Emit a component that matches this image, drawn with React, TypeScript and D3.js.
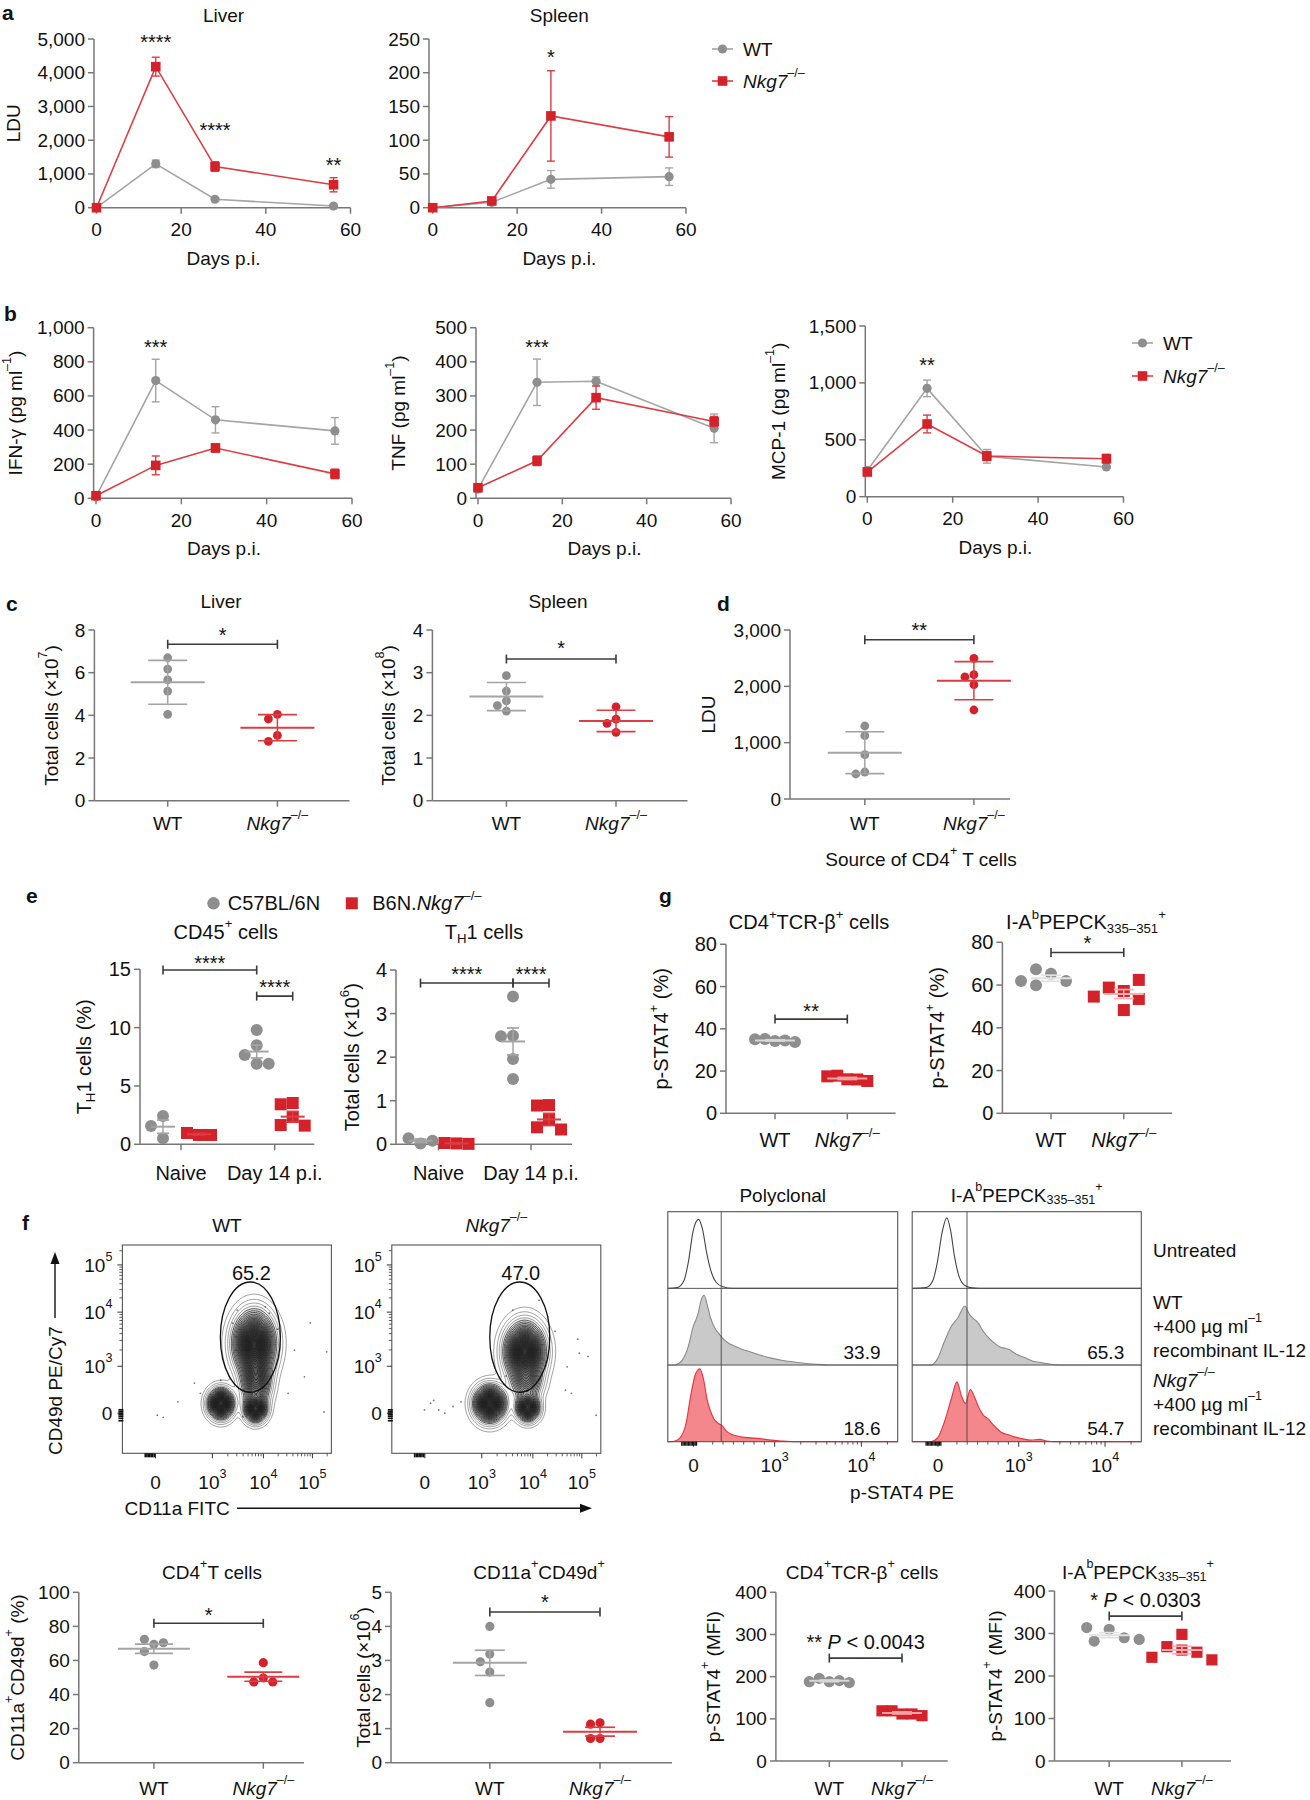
import React from 'react';
import * as d3 from 'd3';

const FONT = '"Liberation Sans", Arial, Helvetica, sans-serif';
const RED = '#d3222a';
const RED_LINE = '#dc3c43';
const GREY = '#8e8e8e';
const GREY_LINE = '#a4a4a4';
const AXIS = '#777';
const INK = '#111';
const SZ = 19;

// ---------- a / b : time courses ----------
const days = [0, 14, 28, 56];
const dayTicks = [0, 20, 40, 60];

const liverWT = [0, 1300, 250, 50];
const liverWTerr = [30, 110, 40, 25];
const liverKO = [0, 4180, 1220, 680];
const liverKOerr = [30, 280, 140, 210];
const liverStars = [[14, 5070, '****'], [28, 2470, '****'], [56, 1410, '**']];

const spleenWT = [0, 8, 42, 46];
const spleenWTerr = [1, 3, 13, 13];
const spleenKO = [0, 10, 136, 105];
const spleenKOerr = [1, 3, 67, 30];
const spleenStars = [[28, 231, '*']];

const ifnWT = [10, 690, 460, 395];
const ifnWTerr = [8, 125, 77, 78];
const ifnKO = [15, 193, 295, 143];
const ifnKOerr = [8, 55, 24, 28];
const ifnStars = [[14, 918, '***']];

const tnfWT = [27, 340, 343, 205];
const tnfWTerr = [6, 68, 13, 42];
const tnfKO = [31, 110, 295, 225];
const tnfKOerr = [6, 14, 34, 15];
const tnfStars = [[14, 459, '***']];

const mcpWT = [231, 952, 355, 261];
const mcpWTerr = [25, 73, 60, 10];
const mcpKO = [217, 639, 357, 334];
const mcpKOerr = [20, 78, 39, 38];
const mcpStars = [[14, 1201, '**']];

// ---------- c / d ----------
const cLiverWT = [6.7, 6.17, 5.66, 5.14, 4.05];
const cLiverKO = [4.05, 3.83, 3.06, 2.78];
const cLiverMean = [5.55, 3.42];
const cLiverSD = [1.03, 0.61];
const cSpleenWT = [2.93, 2.57, 2.34, 2.23, 2.1];
const cSpleenKO = [2.2, 1.91, 1.81, 1.6];
const cSpleenMean = [2.44, 1.87];
const cSpleenSD = [0.33, 0.25];
const dWT = [1296, 1124, 787, 479, 444];
const dKO = [2497, 2207, 2166, 2029, 1580];
const dMean = [822, 2100];
const dSD = [372, 338];

// ---------- e ----------
const e45NaiveWT = [2.43, 1.56, 0.51];
const e45NaiveKO = [0.8, 0.97, 0.8];
const e45D14WT = [9.8, 8.5, 7.65, 6.9, 6.9];
const e45D14KO = [3.54, 3.43, 2.34, 1.65, 1.6];
const e45Mean = [1.51, 0.86, 7.95, 2.37];
const e45Err = [0.57, 0.06, 0.55, 0.45];
const th1NaiveWT = [0.02, 0.14, 0.08];
const th1NaiveKO = [0.02, 0.03, 0.01];
const th1D14WT = [3.39, 2.49, 2.48, 1.96, 1.5];
const th1D14KO = [0.9, 0.89, 0.56, 0.39, 0.34];
const th1Mean = [0.08, 0.02, 2.36, 0.57];
const th1Err = [0.04, 0.01, 0.31, 0.14];

// ---------- g ----------
const g1WT = [34.2, 35.2, 34.5, 35.0, 33.8];
const g1KO = [16.1, 17.8, 16.0, 17.5, 15.3];
const g1Mean = [34.5, 16.5];
const g1Err = [0.3, 0.5];
const g2WT = [65.3, 59.9, 61.9, 67.4, 61.9];
const g2KO = [57.2, 58.8, 53.5, 48.3, 62.4, 54.6];
const g2Mean = [63.2, 55.8];
const g2Err = [1.4, 2.1];

// ---------- bottom row ----------
const b1WT = [69.5, 72.4, 70.4, 65.2, 57.3];
const b1KO = [58.7, 49.7, 47.4, 47.4];
const b1Mean = [66.9, 50.5];
const b1Err = [2.7, 2.7];
const b2WT = [4.0, 3.19, 2.96, 2.66, 1.76];
const b2KO = [1.17, 1.13, 0.71, 0.71];
const b2Mean = [2.93, 0.91];
const b2Err = [0.37, 0.13];
const b3WT = [188, 196, 190.5, 188, 186];
const b3KO = [111.5, 119, 111.5, 119, 107.5];
const b3Mean = [190, 114];
const b3Err = [2, 2.5];
const b4WT = [310, 282, 290, 314, 286];
const b4KO = [261, 269, 298, 256, 244, 238];
const b4Mean = [296, 261];
const b4Err = [6, 9];

// ---------- f : flow (display channels 0-1024) ----------
const flowXTickCh = [162, 441, 691, 931];
const flowYTickCh = [197, 428, 694, 926];
const flowTickLabels = ['0', '10^{3}', '10^{4}', '10^{5}'];
// [cx, cy, sx, sy, weight]
const flowWTClusters = [[645, 540, 52, 80, 1], [655, 360, 38, 70, 0.55], [652, 218, 28, 33, 0.8], [482, 244, 32, 38, 0.95]];
const flowKOClusters = [[651, 500, 50, 72, 1], [660, 350, 40, 50, 0.35], [480, 244, 40, 46, 0.95], [666, 224, 29, 34, 0.8]];
const flowWTDots = [[200, 177], [171, 187], [272, 253], [382, 295], [353, 345], [843, 507], [892, 376], [921, 641], [1001, 499], [988, 203], [812, 295], [720, 689], [562, 704], [700, 720], [482, 359], [760, 610], [540, 640], [590, 180]];
const flowKODots = [[160, 213], [190, 246], [230, 213], [260, 197], [339, 253], [859, 425], [911, 561], [961, 476], [1001, 187], [880, 295], [851, 310], [919, 492], [722, 753], [592, 704], [300, 230], [205, 260], [800, 600], [560, 380]];
const flowPileY = [160, 172, 182, 190, 198, 206, 214];
const flowPileX = [112, 120, 127, 134, 141, 148, 156];
const flowGate = [627, 571, 147, 271];
const flowPct = ['65.2', '47.0'];

// ---------- f : histograms (channel, fraction of row height) ----------
const histTickCh = [115, 476, 862];
const histTickLabels = ['0', '10^{3}', '10^{4}'];
const polyUntreated = [[0, 0], [41, 0.01], [72, 0.1], [92, 0.35], [113, 0.75], [137, 0.9], [154, 0.78], [174, 0.45], [195, 0.2], [215, 0.08], [246, 0.02], [287, 0], [1024, 0]];
const polyWT = [[0, 0], [31, 0], [61, 0.05], [92, 0.25], [113, 0.5], [133, 0.65], [150, 0.86], [162, 0.91], [176, 0.78], [190, 0.62], [210, 0.48], [230, 0.4], [250, 0.33], [280, 0.27], [328, 0.21], [369, 0.17], [410, 0.13], [461, 0.09], [512, 0.06], [563, 0.04], [614, 0.02], [666, 0.01], [717, 0], [1024, 0]];
const polyKO = [[0, 0], [20, 0], [51, 0.04], [82, 0.25], [102, 0.6], [123, 0.88], [143, 0.95], [160, 0.8], [175, 0.55], [190, 0.4], [205, 0.3], [225, 0.24], [245, 0.2], [260, 0.14], [280, 0.1], [300, 0.08], [330, 0.06], [370, 0.05], [410, 0.04], [460, 0.02], [512, 0.01], [560, 0], [1024, 0]];
const iabUntreated = [[0, 0], [61, 0.01], [92, 0.1], [113, 0.35], [133, 0.72], [155, 0.92], [172, 0.75], [190, 0.4], [210, 0.15], [230, 0.05], [260, 0.01], [300, 0], [1024, 0]];
const iabWT = [[0, 0], [82, 0], [113, 0.08], [143, 0.3], [174, 0.5], [205, 0.62], [235, 0.77], [256, 0.66], [276, 0.6], [292, 0.56], [315, 0.45], [340, 0.36], [370, 0.28], [397, 0.23], [415, 0.22], [435, 0.2], [460, 0.15], [500, 0.1], [540, 0.05], [580, 0.03], [620, 0.01], [660, 0], [1024, 0]];
const iabKO = [[0, 0], [82, 0], [113, 0.05], [143, 0.25], [174, 0.55], [200, 0.78], [220, 0.6], [238, 0.5], [260, 0.68], [276, 0.6], [297, 0.45], [317, 0.35], [338, 0.3], [369, 0.2], [400, 0.12], [430, 0.09], [460, 0.06], [490, 0.04], [530, 0.02], [570, 0.03], [600, 0.01], [640, 0], [1024, 0]];
const histGate = [238, 245];
const histPcts = [['33.9', '18.6'], ['65.3', '54.7']];

// ---------- text helpers ----------
function parse(src: string) {
  const out: any[] = [];
  const re = /([\^_*])\{([^}]*)\}/g;
  let last = 0;
  let m: any;
  while ((m = re.exec(src))) {
    if (m.index > last) out.push({ t: src.slice(last, m.index) });
    out.push(m[1] === '^' ? { t: m[2], s: 'sup' } : m[1] === '_' ? { t: m[2], s: 'sub' } : { t: m[2], i: true });
    last = re.lastIndex;
  }
  if (last < src.length) out.push({ t: src.slice(last) });
  return out;
}

function T({ x, y, s, size = SZ, anchor = 'middle', rotate, weight, fill = INK }: any) {
  let cur = 0;
  const spans = parse(s).map((p: any, k: number) => {
    const target = p.s === 'sup' ? -0.42 * size : p.s === 'sub' ? 0.3 * size : 0;
    const dy = target - cur;
    cur = target;
    return (
      <tspan key={k} dy={dy ? dy : undefined} fontSize={p.s ? size * 0.66 : undefined} fontStyle={p.i ? 'italic' : undefined}>
        {p.t}
      </tspan>
    );
  });
  return (
    <text x={x} y={y} fontSize={size} textAnchor={anchor} dominantBaseline="central" fill={fill} fontWeight={weight}
      transform={rotate ? `rotate(${rotate} ${x} ${y})` : undefined}>
      {spans}
    </text>
  );
}

const Stars = ({ x, y, s, size = 20 }: any) => (
  <text x={x} y={y + 0.26 * size} fontSize={size} textAnchor="middle" dominantBaseline="central" fill={INK}>{s}</text>
);

function swarm(vals: number[], y: any, d: number) {
  const placed: number[][] = [];
  return vals.map(v => {
    const py = y(v);
    for (let k = 0; k < 30; k++) {
      const off = k === 0 ? 0 : (k % 2 ? -1 : 1) * Math.ceil(k / 2) * d * 0.5;
      if (placed.every(([px, qy]) => Math.hypot(px - off, qy - py) >= d - 0.01)) {
        placed.push([off, py]);
        return off;
      }
    }
    return 0;
  });
}

// ---------- line panel ----------
function LinePanel({ f, yMax, yTicks, wt, wtErr, ko, koErr, stars, title, ylabel }: any) {
  const x = d3.scaleLinear().domain([0, 60]).range([f.x0, f.x1]);
  const y = d3.scaleLinear().domain([0, yMax]).range([f.yb, f.yt]);
  const line = d3.line<number>().x((_, i) => x(days[i])).y(d => y(d));
  const fmt = d3.format(',');
  const series = (vals: number[], errs: number[], fill: string, stroke: string, shape: string) => (
    <g>
      <path d={line(vals) || ''} fill="none" stroke={stroke} strokeWidth={1.6} />
      {vals.map((v, i) => {
        const cx = x(days[i]);
        const cy = y(v);
        const e1 = y(v + errs[i]);
        const e2 = y(v - errs[i]);
        return (
          <g key={i}>
            <line x1={cx} x2={cx} y1={e1} y2={e2} stroke={stroke} strokeWidth={1.4} />
            <line x1={cx - 4} x2={cx + 4} y1={e1} y2={e1} stroke={stroke} strokeWidth={1.4} />
            <line x1={cx - 4} x2={cx + 4} y1={e2} y2={e2} stroke={stroke} strokeWidth={1.4} />
            {shape === 'c'
              ? <circle cx={cx} cy={cy} r={4.6} fill={fill} />
              : <rect x={cx - 4.8} y={cy - 4.8} width={9.6} height={9.6} fill={fill} />}
          </g>
        );
      })}
    </g>
  );
  return (
    <g>
      {title && <T x={(f.x0 + f.x1) / 2} y={f.yt - 24} s={title} />}
      <line x1={f.ax} x2={f.ax} y1={y(0)} y2={y(yMax)} stroke={AXIS} strokeWidth={1.5} />
      <line x1={f.ax} x2={x(60)} y1={y(0)} y2={y(0)} stroke={AXIS} strokeWidth={1.5} />
      {yTicks.map((t: number) => (
        <g key={t}>
          <line x1={f.ax - 6} x2={f.ax} y1={y(t)} y2={y(t)} stroke={AXIS} strokeWidth={1.5} />
          <text x={f.ax - 9} y={y(t)} fontSize={SZ} textAnchor="end" dominantBaseline="central" fill={INK}>{fmt(t)}</text>
        </g>
      ))}
      {dayTicks.map(t => (
        <g key={t}>
          <line x1={x(t)} x2={x(t)} y1={y(0)} y2={y(0) + 6} stroke={AXIS} strokeWidth={1.5} />
          <text x={x(t)} y={y(0) + 22} fontSize={SZ} textAnchor="middle" dominantBaseline="central" fill={INK}>{t}</text>
        </g>
      ))}
      <T x={(f.x0 + f.x1) / 2} y={y(0) + 50} s="Days p.i." />
      <T x={f.ylx} y={(f.yt + f.yb) / 2} s={ylabel} rotate={-90} />
      {series(wt, wtErr, GREY, GREY_LINE, 'c')}
      {series(ko, koErr, RED, RED_LINE, 's')}
      {stars.map((s: any, i: number) => <Stars key={i} x={x(s[0])} y={y(s[1])} s={s[2]} />)}
    </g>
  );
}

const Legend = ({ x, y, gap }: any) => (
  <g>
    <line x1={x} x2={x + 21} y1={y} y2={y} stroke={GREY_LINE} strokeWidth={1.6} />
    <circle cx={x + 10.5} cy={y} r={4.6} fill={GREY} />
    <T x={x + 31} y={y} s="WT" anchor="start" />
    <line x1={x} x2={x + 21} y1={y + gap} y2={y + gap} stroke={RED_LINE} strokeWidth={1.6} />
    <rect x={x + 5.7} y={y + gap - 4.8} width={9.6} height={9.6} fill={RED} />
    <T x={x + 31} y={y + gap} s="*{Nkg7}^{–/–}" anchor="start" />
  </g>
);

// ---------- dot panel ----------
function DotPanel({ f, yMax, yTicks, fmt = String, groups, brackets, title, ylabel, cats, r, mh, ch, sp, lineW = 2, size = SZ }: any) {
  const y = d3.scaleLinear().domain([0, yMax]).range([f.yb, f.yt]);
  const cat = d3.scalePoint<string>().domain(cats.map((c: any) => c[0])).range(f.range);
  const sub = d3.scalePoint<string>().domain(['WT', 'KO']).range(f.sub || [0, 0]);
  const gx = (g: any) => (cat(g.cat) as number) + (f.sub ? (sub(g.sub) as number) : 0);
  return (
    <g>
      {title && <T x={f.tx} y={f.ty} s={title} size={size} />}
      <line x1={f.ax} x2={f.ax} y1={y(0)} y2={y(yMax)} stroke={AXIS} strokeWidth={1.5} />
      <line x1={f.ax} x2={f.end} y1={y(0)} y2={y(0)} stroke={AXIS} strokeWidth={1.5} />
      {yTicks.map((t: number) => (
        <g key={t}>
          <line x1={f.ax - 6} x2={f.ax} y1={y(t)} y2={y(t)} stroke={AXIS} strokeWidth={1.5} />
          <text x={f.ax - 9} y={y(t)} fontSize={size} textAnchor="end" dominantBaseline="central" fill={INK}>{fmt(t)}</text>
        </g>
      ))}
      {cats.map((c: any) => (
        <g key={c[0]}>
          <line x1={cat(c[0])} x2={cat(c[0])} y1={y(0)} y2={y(0) + 6} stroke={AXIS} strokeWidth={1.5} />
          <T x={cat(c[0])} y={f.cy} s={c[1]} size={size} />
        </g>
      ))}
      <T x={f.ylx} y={(f.yt + f.yb) / 2} s={ylabel} rotate={-90} size={size} />
      {groups.map((g: any, gi: number) => {
        const x0 = gx(g);
        const offs = swarm(g.vals, y, sp);
        return (
          <g key={gi}>
            {g.vals.map((v: number, i: number) => g.shape === 'c'
              ? <circle key={i} cx={x0 + offs[i]} cy={y(v)} r={r} fill={g.color} />
              : <rect key={i} x={x0 + offs[i] - r} y={y(v) - r} width={2 * r} height={2 * r} fill={g.color} />)}
            <line x1={x0 - mh} x2={x0 + mh} y1={y(g.mean)} y2={y(g.mean)} stroke={g.line} strokeWidth={lineW} />
            <line x1={x0} x2={x0} y1={y(g.mean + g.err)} y2={y(g.mean - g.err)} stroke={g.line} strokeWidth={1.5} />
            <line x1={x0 - ch} x2={x0 + ch} y1={y(g.mean + g.err)} y2={y(g.mean + g.err)} stroke={g.line} strokeWidth={1.7} />
            <line x1={x0 - ch} x2={x0 + ch} y1={y(g.mean - g.err)} y2={y(g.mean - g.err)} stroke={g.line} strokeWidth={1.7} />
          </g>
        );
      })}
      {brackets.map((b: any, i: number) => {
        const xa = gx(groups[b.a]);
        const xb = gx(groups[b.b]);
        const yy = y(b.at);
        return (
          <g key={i}>
            <line x1={xa} x2={xb} y1={yy} y2={yy} stroke="#3a3a3a" strokeWidth={1.6} />
            <line x1={xa} x2={xa} y1={yy - 4.5} y2={yy + 4.5} stroke="#3a3a3a" strokeWidth={1.6} />
            <line x1={xb} x2={xb} y1={yy - 4.5} y2={yy + 4.5} stroke="#3a3a3a" strokeWidth={1.6} />
            {b.p
              ? <T x={(xa + xb) / 2} y={y(b.lab)} s={b.label} size={size + 1} />
              : <Stars x={(xa + xb) / 2} y={y(b.lab)} s={b.label} />}
          </g>
        );
      })}
    </g>
  );
}

const pair = (wt: number[], ko: number[], mean: number[], err: number[], shapes = ['c', 'c'], lines = [GREY_LINE, RED_LINE]) => [
  { cat: 'WT', vals: wt, mean: mean[0], err: err[0], shape: shapes[0], color: GREY, line: lines[0] },
  { cat: 'KO', vals: ko, mean: mean[1], err: err[1], shape: shapes[1], color: RED, line: lines[1] },
];
const wtKoCats = [['WT', 'WT'], ['KO', '*{Nkg7}^{–/–}']];

// ---------- flow contour ----------
const GRID = 128;
function FlowPlot({ b, clusters, dots, title, pct, id }: any) {
  const x = d3.scaleLinear().domain([0, 1024]).range([b.x0, b.x1]);
  const y = d3.scaleLinear().domain([0, 1024]).range([b.y1, b.y0]);
  const values: number[] = new Array(GRID * GRID);
  for (let j = 0; j < GRID; j++) {
    for (let i = 0; i < GRID; i++) {
      const cx = ((i + 0.5) * 1024) / GRID;
      const cy = 1024 - ((j + 0.5) * 1024) / GRID;
      let v = 0;
      for (const c of clusters) {
        const dx = (cx - c[0]) / c[2];
        const dy = (cy - c[1]) / c[3];
        v += c[4] * Math.exp(-0.5 * (dx * dx + dy * dy));
      }
      values[j * GRID + i] = v;
    }
  }
  const mx = d3.max(values) as number;
  const levels = [0.01, 0.025, 0.045, 0.07, 0.1, 0.13].concat(d3.range(0.16, 0.97, 0.035)).map(q => q * mx);
  const contours = d3.contours().size([GRID, GRID]).thresholds(levels)(values);
  const sx = (b.x1 - b.x0) / GRID;
  const sy = (b.y1 - b.y0) / GRID;
  const proj = d3.geoTransform({
    point(px: number, py: number) {
      (this as any).stream.point(b.x0 + px * sx, b.y0 + py * sy);
    },
  });
  const path = d3.geoPath(proj as any);
  const minor = (ticks: number[]) => {
    const out: number[] = [];
    for (let k = 2; k < ticks.length; k++) {
      const a = ticks[k - 1];
      d3.range(2, 10).forEach(m => out.push(a + Math.log10(m) * (ticks[k] - a)));
    }
    const last = ticks[ticks.length - 1];
    const w = last - ticks[ticks.length - 2];
    d3.range(2, 10).forEach(m => { const p = last + Math.log10(m) * w; if (p < 1020) out.push(p); });
    return out;
  };
  return (
    <g>
      <T x={(b.x0 + b.x1) / 2} y={b.y0 - 20} s={title} size={SZ} />
      <clipPath id={id}><rect x={b.x0} y={b.y0} width={b.x1 - b.x0} height={b.y1 - b.y0} /></clipPath>
      <g clipPath={`url(#${id})`}>
        {dots.map((d: number[], i: number) => <circle key={i} cx={x(d[0])} cy={y(d[1])} r={0.9} fill="#777" />)}
        {contours.map((c, i) => (
          <path key={i} d={path(c as any) || ''} fill="#000" fillOpacity={i < 3 ? 0 : 0.055} stroke="#1a1a1a"
            strokeWidth={i < 4 ? 0.6 : 0.8} strokeOpacity={i < 4 ? 0.7 : 0.9} />
        ))}
      </g>
      <ellipse cx={x(flowGate[0])} cy={y(flowGate[1])} rx={x(flowGate[2]) - x(0)} ry={y(0) - y(flowGate[3])} fill="none" stroke="#111" strokeWidth={1.3} />
      <text x={x(632)} y={y(887)} fontSize={20} textAnchor="middle" dominantBaseline="central" fill={INK}>{pct}</text>
      <rect x={b.x0} y={b.y0} width={b.x1 - b.x0} height={b.y1 - b.y0} fill="none" stroke="#555" strokeWidth={1.1} />
      {flowYTickCh.map((t, i) => (
        <g key={i}>
          <line x1={b.x0 - 5} x2={b.x0} y1={y(t)} y2={y(t)} stroke="#333" strokeWidth={1} />
          <T x={b.x0 - 10} y={y(t)} s={flowTickLabels[i]} anchor="end" size={SZ} />
        </g>
      ))}
      {flowXTickCh.map((t, i) => (
        <g key={i}>
          <line x1={x(t)} x2={x(t)} y1={b.y1} y2={b.y1 + 5} stroke="#333" strokeWidth={1} />
          <T x={x(t)} y={b.y1 + 29} s={flowTickLabels[i]} size={SZ} />
        </g>
      ))}
      {minor(flowXTickCh).map((t, i) => <line key={i} x1={x(t)} x2={x(t)} y1={b.y1} y2={b.y1 + 3} stroke="#333" strokeWidth={0.8} />)}
      {minor(flowYTickCh).map((t, i) => <line key={i} x1={b.x0 - 3} x2={b.x0} y1={y(t)} y2={y(t)} stroke="#333" strokeWidth={0.8} />)}
      {flowPileX.map((t, i) => <line key={i} x1={x(t)} x2={x(t)} y1={b.y1} y2={b.y1 + 4} stroke="#111" strokeWidth={1.6} />)}
      {flowPileY.map((t, i) => <line key={i} x1={b.x0 - 4} x2={b.x0 + 1} y1={y(t)} y2={y(t)} stroke="#111" strokeWidth={1.6} />)}
    </g>
  );
}

// ---------- histogram ----------
function HistPanel({ b, curves, gate, pcts, title }: any) {
  const x = d3.scaleLinear().domain([0, 1024]).range([b.x0, b.x1]);
  const rh = (b.y1 - b.y0) / 3;
  const styles = [
    { fill: '#ffffff', stroke: '#444' },
    { fill: '#c9c9c9', stroke: '#8a8a8a' },
    { fill: '#f4878b', stroke: '#e3343c' },
  ];
  return (
    <g>
      <T x={(b.x0 + b.x1) / 2} y={b.y0 - 17} s={title} />
      {curves.map((pts: number[][], i: number) => {
        const bottom = b.y0 + (i + 1) * rh;
        const y = d3.scaleLinear().domain([0, 1]).range([bottom, bottom - rh]);
        const area = d3.area<number[]>().x(d => x(d[0])).y0(bottom).y1(d => y(d[1])).curve(d3.curveMonotoneX);
        const line = d3.line<number[]>().x(d => x(d[0])).y(d => y(d[1])).curve(d3.curveMonotoneX);
        return (
          <g key={i}>
            <path d={area(pts) || ''} fill={styles[i].fill} />
            <path d={line(pts) || ''} fill="none" stroke={styles[i].stroke} strokeWidth={1.1} />
            {i > 0 && <text x={x(865)} y={bottom - 13} fontSize={SZ} textAnchor="middle" dominantBaseline="central" fill={INK}>{pcts[i - 1]}</text>}
            {i < 2 && <line x1={b.x0} x2={b.x1} y1={bottom} y2={bottom} stroke="#555" strokeWidth={1} />}
          </g>
        );
      })}
      <line x1={x(gate)} x2={x(gate)} y1={b.y0} y2={b.y1} stroke="#444" strokeWidth={0.9} />
      <rect x={b.x0} y={b.y0} width={b.x1 - b.x0} height={b.y1 - b.y0} fill="none" stroke="#555" strokeWidth={1.1} />
      {histTickCh.map((t, i) => (
        <g key={i}>
          <line x1={x(t)} x2={x(t)} y1={b.y1} y2={b.y1 + 5} stroke="#333" strokeWidth={1} />
          <T x={x(t)} y={b.y1 + 23} s={histTickLabels[i]} />
        </g>
      ))}
      {d3.range(2, 10).map(m => histTickCh[1] + Math.log10(m) * (histTickCh[2] - histTickCh[1]))
        .concat(d3.range(2, 10).map(m => histTickCh[2] + Math.log10(m) * (histTickCh[2] - histTickCh[1])).filter(p => p < 1020))
        .concat(d3.range(200, 476, 46))
        .map((t, i) => <line key={i} x1={x(t)} x2={x(t)} y1={b.y1} y2={b.y1 + 3} stroke="#333" strokeWidth={0.8} />)}
      {d3.range(62, 130, 6).map((t, i) => <line key={i} x1={x(t)} x2={x(t)} y1={b.y1} y2={b.y1 + 4} stroke="#111" strokeWidth={1.3} />)}
    </g>
  );
}

// ---------- layout ----------
const F = {
  aLiver: { ax: 94, x0: 96.5, x1: 350.5, yt: 39, yb: 207.7, ylx: 13 },
  aSpleen: { ax: 429, x0: 432.7, x1: 686, yt: 39, yb: 207.7, ylx: 0 },
  bIfn: { ax: 93.6, x0: 96, x1: 352, yt: 327.7, yb: 498.3, ylx: 15 },
  bTnf: { ax: 476, x0: 478, x1: 731, yt: 327.7, yb: 498.3, ylx: 398 },
  bMcp: { ax: 865.3, x0: 867.3, x1: 1123.5, yt: 326, yb: 496.7, ylx: 778 },
  cLiver: { ax: 94.4, yt: 630, yb: 800.7, end: 349.5, range: [167.7, 277.4], cy: 822.7, ylx: 51, tx: 221, ty: 600.7 },
  cSpleen: { ax: 432.4, yt: 630, yb: 800.7, end: 687.5, range: [506.4, 616], cy: 822.7, ylx: 388, tx: 558, ty: 600.7 },
  d: { ax: 790, yt: 630, yb: 799, end: 1010, range: [864.8, 973.9], cy: 822.7, ylx: 708 },
  e45: { ax: 140, yt: 969.3, yb: 1144.3, end: 314.3, range: [181, 274.7], sub: [-18, 18], cy: 1173, ylx: 84, tx: 225.7, ty: 931.7 },
  eTh1: { ax: 396, yt: 970, yb: 1144.3, end: 572, range: [438.5, 531], sub: [-18, 18], cy: 1173, ylx: 352, tx: 484, ty: 931.7 },
  g1: { ax: 726, yt: 944.3, yb: 1113.3, end: 895.6, range: [775, 847.3], cy: 1140, ylx: 661.4, tx: 809, ty: 922 },
  g2: { ax: 1002.4, yt: 942.3, yb: 1113.3, end: 1172, range: [1051, 1123.8], cy: 1140, ylx: 937, tx: 1086, ty: 922 },
  b1: { ax: 78.8, yt: 1592.3, yb: 1762.7, end: 304, range: [153.9, 263.3], cy: 1788, ylx: 17, tx: 212, ty: 1571.7 },
  b2: { ax: 391, yt: 1592.3, yb: 1762.7, end: 672, range: [489.8, 600], cy: 1788, ylx: 363, tx: 539, ty: 1571.7 },
  b3: { ax: 775.9, yt: 1592.3, yb: 1761, end: 947.7, range: [829.3, 902], cy: 1788, ylx: 712.6, tx: 862, ty: 1571.7 },
  b4: { ax: 1054.5, yt: 1591, yb: 1761, end: 1231, range: [1109.2, 1181.9], cy: 1788, ylx: 994.7, tx: 1138, ty: 1571.7 },
  flowWT: { x0: 122.4, x1: 331.4, y0: 1245, y1: 1453.3 },
  flowKO: { x0: 391.8, x1: 600.8, y0: 1245, y1: 1453.3 },
  histPoly: { x0: 667.8, x1: 897.7, y0: 1211.7, y1: 1441.7 },
  histIab: { x0: 912.2, x1: 1141.3, y0: 1211.7, y1: 1441.7 },
};

const Letter = ({ x, y, s }: any) => (
  <text x={x} y={y} fontSize={21} fontWeight="bold" dominantBaseline="central" fill={INK}>{s}</text>
);

const eGroups = (nWT: number[], nKO: number[], dWT_: number[], dKO_: number[], mean: number[], err: number[]) => [
  { cat: 'Naive', sub: 'WT', vals: nWT, mean: mean[0], err: err[0], shape: 'c', color: GREY, line: GREY_LINE },
  { cat: 'Naive', sub: 'KO', vals: nKO, mean: mean[1], err: err[1], shape: 's', color: RED, line: RED_LINE },
  { cat: 'D14', sub: 'WT', vals: dWT_, mean: mean[2], err: err[2], shape: 'c', color: GREY, line: GREY_LINE },
  { cat: 'D14', sub: 'KO', vals: dKO_, mean: mean[3], err: err[3], shape: 's', color: RED, line: RED_LINE },
];
const eCats = [['Naive', 'Naive'], ['D14', 'Day 14 p.i.']];

export default function App() {
  return (
    <svg width={1310} height={1800} viewBox="0 0 1310 1800" fontFamily={FONT}
      style={{ position: 'absolute', left: 0, top: 0, background: '#fff' }}>
      <rect width={1310} height={1800} fill="#fff" />

      {/* a */}
      <Letter x={2} y={12} s="a" />
      <LinePanel f={F.aLiver} yMax={5000} yTicks={d3.range(0, 5001, 1000)} wt={liverWT} wtErr={liverWTerr} ko={liverKO} koErr={liverKOerr}
        stars={liverStars} title="Liver" ylabel="LDU" />
      <LinePanel f={F.aSpleen} yMax={250} yTicks={d3.range(0, 251, 50)} wt={spleenWT} wtErr={spleenWTerr} ko={spleenKO} koErr={spleenKOerr}
        stars={spleenStars} title="Spleen" ylabel="" />
      <Legend x={712} y={49} gap={32} />

      {/* b */}
      <Letter x={4} y={313} s="b" />
      <LinePanel f={F.bIfn} yMax={1000} yTicks={d3.range(0, 1001, 200)} wt={ifnWT} wtErr={ifnWTerr} ko={ifnKO} koErr={ifnKOerr}
        stars={ifnStars} ylabel="IFN-γ (pg ml^{–1})" />
      <LinePanel f={F.bTnf} yMax={500} yTicks={d3.range(0, 501, 100)} wt={tnfWT} wtErr={tnfWTerr} ko={tnfKO} koErr={tnfKOerr}
        stars={tnfStars} ylabel="TNF (pg ml^{–1})" />
      <LinePanel f={F.bMcp} yMax={1500} yTicks={d3.range(0, 1501, 500)} wt={mcpWT} wtErr={mcpWTerr} ko={mcpKO} koErr={mcpKOerr}
        stars={mcpStars} ylabel="MCP-1 (pg ml^{–1})" />
      <Legend x={1132} y={343} gap={33} />

      {/* c */}
      <Letter x={6} y={603} s="c" />
      <DotPanel f={F.cLiver} yMax={8} yTicks={d3.range(0, 9, 2)} groups={pair(cLiverWT, cLiverKO, cLiverMean, cLiverSD)}
        brackets={[{ a: 0, b: 1, at: 7.33, lab: 8.0, label: '*' }]} title="Liver" ylabel="Total cells (×10^{7})" cats={wtKoCats}
        r={4.4} mh={37} ch={19.5} sp={9} />
      <DotPanel f={F.cSpleen} yMax={4} yTicks={d3.range(0, 5, 1)} groups={pair(cSpleenWT, cSpleenKO, cSpleenMean, cSpleenSD)}
        brackets={[{ a: 0, b: 1, at: 3.32, lab: 3.69, label: '*' }]} title="Spleen" ylabel="Total cells (×10^{8})" cats={wtKoCats}
        r={4.4} mh={37} ch={19.5} sp={9} />
      {/* d */}
      <Letter x={717} y={603} s="d" />
      <DotPanel f={F.d} yMax={3000} yTicks={d3.range(0, 3001, 1000)} fmt={d3.format(',')} groups={pair(dWT, dKO, dMean, dSD)}
        brackets={[{ a: 0, b: 1, at: 2828, lab: 3100, label: '**' }]} ylabel="LDU" cats={wtKoCats}
        r={4.4} mh={37} ch={19.5} sp={9} />
      <T x={921} y={859} s="Source of CD4^{+} T cells" />

      {/* e */}
      <Letter x={26} y={895} s="e" />
      <circle cx={213.5} cy={903.3} r={6.2} fill={GREY} />
      <T x={227.8} y={903.3} s="C57BL/6N" anchor="start" size={20} />
      <rect x={345.8} y={897.3} width={12} height={12} fill={RED} />
      <T x={372.2} y={903.3} s="B6N.*{Nkg7}^{–/–}" anchor="start" size={20} />
      <DotPanel f={F.e45} yMax={15} yTicks={[0, 5, 10, 15]} groups={eGroups(e45NaiveWT, e45NaiveKO, e45D14WT, e45D14KO, e45Mean, e45Err)}
        brackets={[{ a: 0, b: 2, at: 14.94, lab: 16.0, label: '****' }, { a: 2, b: 3, at: 12.7, lab: 13.94, label: '****' }]}
        title="CD45^{+} cells" ylabel="T_{H}1 cells (%)" cats={eCats} r={6} mh={12} ch={6} sp={12} size={20} />
      <DotPanel f={F.eTh1} yMax={4} yTicks={[0, 1, 2, 3, 4]} groups={eGroups(th1NaiveWT, th1NaiveKO, th1D14WT, th1D14KO, th1Mean, th1Err)}
        brackets={[{ a: 0, b: 2, at: 3.7, lab: 4.02, label: '****' }, { a: 2, b: 3, at: 3.7, lab: 4.02, label: '****' }]}
        title="T_{H}1 cells" ylabel="Total cells (×10^{6})" cats={eCats} r={6} mh={12} ch={6} sp={12} size={20} />

      {/* g */}
      <Letter x={659} y={895} s="g" />
      <DotPanel f={F.g1} yMax={80} yTicks={d3.range(0, 81, 20)} groups={pair(g1WT, g1KO, g1Mean, g1Err, ['c', 's'], ['#d8d8d8', '#f3a3a6'])}
        brackets={[{ a: 0, b: 1, at: 44.6, lab: 50.9, label: '**' }]} title="CD4^{+}TCR-β^{+} cells" ylabel="p-STAT4^{+} (%)"
        cats={wtKoCats} r={6} mh={20} ch={10} sp={10} size={20} />
      <DotPanel f={F.g2} yMax={80} yTicks={d3.range(0, 81, 20)} groups={pair(g2WT, g2KO, g2Mean, g2Err, ['c', 's'], ['#e2e2e2', '#f6b0b3'])}
        brackets={[{ a: 0, b: 1, at: 75.2, lab: 82, label: '*' }]} title="I-A^{b}PEPCK_{335–351}^{+}" ylabel="p-STAT4^{+} (%)"
        cats={wtKoCats} r={6} mh={20} ch={10} sp={15} size={20} />

      {/* f */}
      <Letter x={22} y={1222} s="f" />
      <FlowPlot b={F.flowWT} clusters={flowWTClusters} dots={flowWTDots} title="WT" pct={flowPct[0]} id="fclip1" />
      <FlowPlot b={F.flowKO} clusters={flowKOClusters} dots={flowKODots} title="*{Nkg7}^{–/–}" pct={flowPct[1]} id="fclip2" />
      <T x={55} y={1455} s="CD49d PE/Cy7" anchor="start" rotate={-90} />
      <line x1={55} x2={55} y1={1318} y2={1262} stroke={INK} strokeWidth={1.4} />
      <path d="M55,1252 L50.5,1264 L59.5,1264 Z" fill={INK} />
      <T x={124.5} y={1508.3} s="CD11a FITC" anchor="start" />
      <line x1={237} x2={580} y1={1508.3} y2={1508.3} stroke={INK} strokeWidth={1.4} />
      <path d="M592,1508.3 L580,1503.8 L580,1512.8 Z" fill={INK} />

      <HistPanel b={F.histPoly} curves={[polyUntreated, polyWT, polyKO]} gate={histGate[0]} pcts={histPcts[0]} title="Polyclonal" />
      <HistPanel b={F.histIab} curves={[iabUntreated, iabWT, iabKO]} gate={histGate[1]} pcts={histPcts[1]} title="I-A^{b}PEPCK_{335–351}^{+}" />
      <T x={902} y={1492} s="p-STAT4 PE" />
      <T x={1153} y={1250} s="Untreated" anchor="start" />
      <T x={1153} y={1302} s="WT" anchor="start" />
      <T x={1153} y={1326} s="+400 µg ml^{–1}" anchor="start" />
      <T x={1153} y={1350} s="recombinant IL-12" anchor="start" />
      <T x={1153} y={1380} s="*{Nkg7}^{–/–}" anchor="start" />
      <T x={1153} y={1404} s="+400 µg ml^{–1}" anchor="start" />
      <T x={1153} y={1428} s="recombinant IL-12" anchor="start" />

      {/* bottom row */}
      <DotPanel f={F.b1} yMax={100} yTicks={d3.range(0, 101, 20)} groups={pair(b1WT, b1KO, b1Mean, b1Err)}
        brackets={[{ a: 0, b: 1, at: 81.8, lab: 90, label: '*' }]} title="CD4^{+}T cells" ylabel="CD11a^{+}CD49d^{+} (%)"
        cats={wtKoCats} r={4.6} mh={36} ch={19} sp={9.5} />
      <DotPanel f={F.b2} yMax={5} yTicks={d3.range(0, 6, 1)} groups={pair(b2WT, b2KO, b2Mean, b2Err)}
        brackets={[{ a: 0, b: 1, at: 4.42, lab: 4.87, label: '*' }]} title="CD11a^{+}CD49d^{+}" ylabel="Total cells (×10^{6})"
        cats={wtKoCats} r={4.6} mh={37} ch={15} sp={9.5} />
      <DotPanel f={F.b3} yMax={400} yTicks={d3.range(0, 401, 100)} groups={pair(b3WT, b3KO, b3Mean, b3Err, ['c', 's'], ['#d8d8d8', '#f3a3a6'])}
        brackets={[{ a: 0, b: 1, at: 244, lab: 283, label: '** *{P} < 0.0043', p: true }]} title="CD4^{+}TCR-β^{+} cells" ylabel="p-STAT4^{+} (MFI)"
        cats={wtKoCats} r={5.6} mh={20} ch={10} sp={10} />
      <DotPanel f={F.b4} yMax={400} yTicks={d3.range(0, 401, 100)} groups={pair(b4WT, b4KO, b4Mean, b4Err, ['c', 's'], ['#e2e2e2', '#f6b0b3'])}
        brackets={[{ a: 0, b: 1, at: 341, lab: 379, label: '* *{P} < 0.0303', p: true }]} title="I-A^{b}PEPCK_{335–351}^{+}" ylabel="p-STAT4^{+} (MFI)"
        cats={wtKoCats} r={5.6} mh={20} ch={10} sp={15} />
    </svg>
  );
}
